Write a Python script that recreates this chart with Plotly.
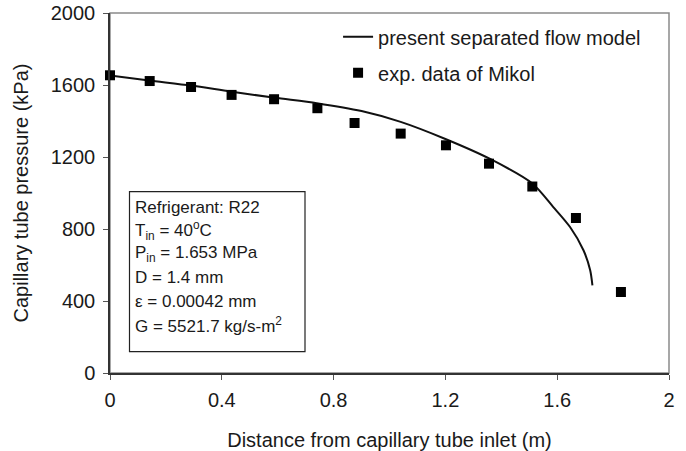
import plotly.graph_objects as go

# Model curve (present separated flow model)
model_x = [0.0, 0.14, 0.29, 0.43, 0.59, 0.74, 0.9, 1.04, 1.2, 1.36, 1.51, 1.586, 1.646, 1.694, 1.718, 1.726]
model_y = [1653, 1625, 1597, 1564, 1529, 1499, 1455, 1395, 1300, 1189, 1054, 922, 811, 682, 571, 487]

# Experimental data of Mikol
exp_x = [0.0, 0.142, 0.29, 0.435, 0.587, 0.742, 0.875, 1.04, 1.202, 1.356, 1.511, 1.667, 1.828]
exp_y = [1654, 1622, 1589, 1545, 1521, 1471, 1389, 1330, 1265, 1163, 1036, 861, 450]

x_ticks = [0, 0.4, 0.8, 1.2, 1.6, 2]
x_ticklabels = ["0", "0.4", "0.8", "1.2", "1.6", "2"]
y_ticks = [0, 400, 800, 1200, 1600, 2000]
y_ticklabels = ["0", "400", "800", "1200", "1600", "2000"]

box_lines = [
    "Refrigerant: R22",
    "T<sub>in</sub> = 40<sup>o</sup>C",
    "P<sub>in</sub> = 1.653 MPa",
    "D = 1.4 mm",
    "ε = 0.00042 mm",
    "G = 5521.7 kg/s-m<sup>2</sup>",
]

FONT = "Liberation Sans, Arial, sans-serif"
TXT = "#1a1a1a"

# plot-area geometry in pixels (used only to place decorations in paper units)
PL, PR, PT, PB = 110, 669, 13, 373
def px_x(px):
    return (px - PL) / (PR - PL)
def px_y(py):
    return (PB - py) / (PB - PT)

fig = go.Figure()
fig.add_trace(go.Scatter(
    x=model_x, y=model_y, mode="lines", name="present separated flow model",
    line=dict(color="#111111", width=2, shape="spline", smoothing=0.8),
    legendgroup="a",
))
fig.add_trace(go.Scatter(
    x=exp_x, y=exp_y, mode="markers", name="exp. data of Mikol",
    marker=dict(symbol="square", size=10, color="#000000"),
    legendgroup="b", cliponaxis=False,
))

# plot frame (top/right in gray)
fig.add_shape(type="rect", xref="paper", yref="paper", x0=0, x1=1, y0=0, y1=1,
              line=dict(color="#8a8a8a", width=1.5), layer="below")

# parameter box
fig.add_shape(type="rect", xref="paper", yref="paper",
              x0=px_x(129.5), x1=px_x(305), y0=px_y(351.7), y1=px_y(191.7),
              line=dict(color="#222222", width=1.2))
for i, line in enumerate(box_lines):
    fig.add_annotation(
        xref="paper", yref="paper", x=px_x(132.5), y=px_y(207 + 23.6 * i),
        xanchor="left", yanchor="middle",
        text=line, showarrow=False, align="left",
        font=dict(family=FONT, size=17, color=TXT),
    )

fig.update_layout(
    width=686, height=451,
    margin=dict(l=PL, r=686 - PR, t=PT, b=451 - PB, autoexpand=False),
    paper_bgcolor="white", plot_bgcolor="white",
    font=dict(family=FONT, size=20, color=TXT),
    showlegend=True,
    legend=dict(x=0.408, y=0.988, xanchor="left", yanchor="top",
                bgcolor="rgba(0,0,0,0)", font=dict(size=20),
                tracegroupgap=7, itemwidth=30),
    xaxis=dict(range=[0, 2], tickvals=x_ticks, ticktext=x_ticklabels,
               showgrid=False, zeroline=False, showline=True, automargin=False,
               linecolor="#333333", linewidth=1.5, ticks="outside", ticklen=5,
               tickcolor="#555555", tickwidth=1, ticklabelstandoff=3,
               title=dict(text="Distance from capillary tube inlet (m)",
                          font=dict(size=20), standoff=24)),
    yaxis=dict(range=[0, 2000], tickvals=y_ticks, ticktext=y_ticklabels,
               showgrid=False, zeroline=False, showline=True, automargin=False,
               linecolor="#333333", linewidth=1.5, ticks="outside", ticklen=5,
               tickcolor="#555555", tickwidth=1, ticklabelstandoff=4,
               title=dict(text="Capillary tube pressure (kPa)",
                          font=dict(size=20), standoff=17)),
)

fig.write_html("out.html")
